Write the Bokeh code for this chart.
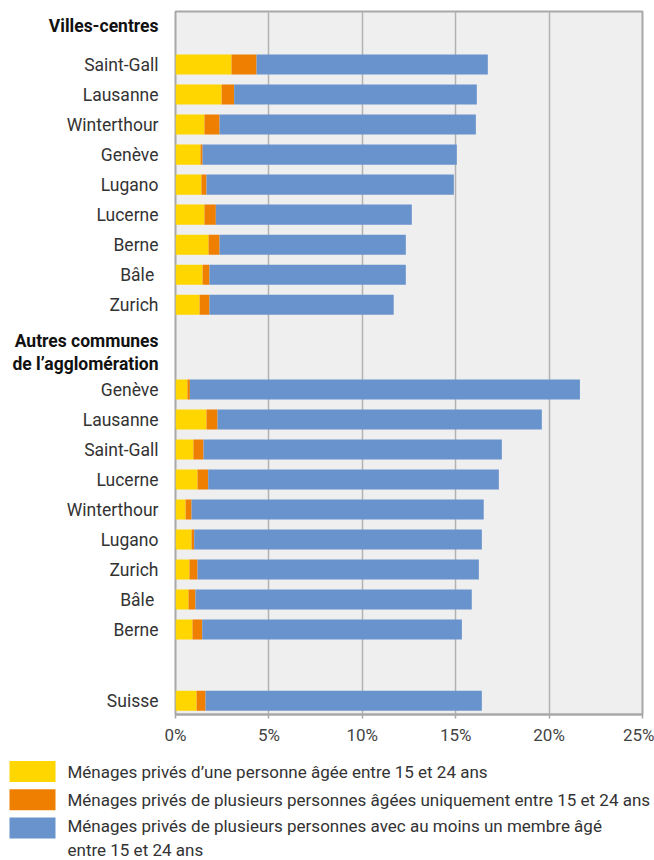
from bokeh.plotting import figure
from bokeh.models import ColumnDataSource, Range1d, FixedTicker
from bokeh.layouts import column, row
from bokeh.core.properties import value
from bokeh.embed import file_html
from bokeh.resources import INLINE

# ---------------- data ----------------
x_ticks = [0, 5, 10, 15, 20, 25]
x_tick_labels = ["0%", "5%", "10%", "15%", "20%", "25%"]

series_names = [
    "Ménages privés d’une personne âgée entre 15 et 24 ans",
    "Ménages privés de plusieurs personnes âgées uniquement entre 15 et 24 ans",
    "Ménages privés de plusieurs personnes avec au moins un membre âgé\nentre 15 et 24 ans",
]

header_villes = "Villes-centres"
villes = ["Saint-Gall", "Lausanne", "Winterthour", "Genève", "Lugano",
          "Lucerne", "Berne", "Bâle ", "Zurich"]
villes_seul = [3.0, 2.47, 1.55, 1.34, 1.39, 1.55, 1.77, 1.45, 1.29]
villes_jeunes = [1.34, 0.67, 0.81, 0.11, 0.27, 0.61, 0.59, 0.37, 0.53]
villes_autres = [12.38, 12.99, 13.72, 13.61, 13.24, 10.49, 9.97, 10.51, 9.86]

header_agglo = "Autres communes\nde l’agglomération"
agglo = ["Genève", "Lausanne", "Saint-Gall", "Lucerne", "Winterthour",
         "Lugano", "Zurich", "Bâle ", "Berne"]
agglo_seul = [0.64, 1.66, 0.96, 1.18, 0.54, 0.86, 0.75, 0.70, 0.91]
agglo_jeunes = [0.13, 0.59, 0.54, 0.57, 0.32, 0.14, 0.43, 0.37, 0.52]
agglo_autres = [20.88, 17.36, 15.97, 15.56, 15.64, 15.40, 15.06, 14.79, 13.90]

suisse = ["Suisse"]
suisse_seul = [1.13]
suisse_jeunes = [0.48]
suisse_autres = [14.79]

colors = ["#FFD600", "#EF7F00", "#6993CC"]

# ---------------- row layout (row units, top = 0) ----------------
start_villes = 1.77
start_agglo = 12.6
pos_suisse = 22.97
pos_header_villes = 0.47
pos_header_agglo = 11.38
y_bottom = 23.43

y_villes = [start_villes + i for i in range(len(villes))]
y_agglo = [start_agglo + i for i in range(len(agglo))]
y_suisse = [pos_suisse]

ys = y_villes + y_agglo + y_suisse
names = villes + agglo + suisse
source = ColumnDataSource(dict(
    y=ys,
    name=names,
    seul=villes_seul + agglo_seul + suisse_seul,
    jeunes=villes_jeunes + agglo_jeunes + suisse_jeunes,
    autres=villes_autres + agglo_autres + suisse_autres,
))
headers = ColumnDataSource(dict(
    y=[pos_header_villes, pos_header_agglo],
    text=[header_villes, header_agglo],
))

FONT = "Roboto"
H_MAIN = 750
TOP, BOTTOM = 11, 36
y_range = Range1d(y_bottom, 0)

# ---------------- category labels (left strip) ----------------
lab = figure(width=163, height=H_MAIN, output_backend="svg", toolbar_location=None,
             x_range=Range1d(0, 163), y_range=y_range,
             min_border_left=0, min_border_right=0, min_border_top=TOP,
             min_border_bottom=BOTTOM, x_axis_location=None, y_axis_location=None)
lab.grid.visible = False
lab.outline_line_color = None
lab.text(x=158, y="y", text="name", source=source, text_align="right",
         text_baseline="middle", text_font=value(FONT), text_font_size="17.5px",
         text_color="#333333")
lab.text(x=158, y="y", text="text", source=headers, text_align="right",
         text_baseline="middle", text_font=value(FONT), text_font_size="17.5px",
         text_font_style="bold", text_color="#111111", text_line_height=1.15)

# ---------------- main chart ----------------
p = figure(width=491, height=H_MAIN, output_backend="svg", toolbar_location=None,
           x_range=Range1d(0, 25), y_range=y_range, y_axis_location=None,
           min_border_left=12, min_border_right=12, min_border_top=TOP,
           min_border_bottom=BOTTOM)
p.background_fill_color = "#EFEFEF"
p.border_fill_color = "white"
p.outline_line_color = "#A8A8A8"
p.outline_line_width = 2

p.hbar_stack(["seul", "jeunes", "autres"], y="y", height=0.667,
             color=colors, line_color=None, source=source)

p.ygrid.visible = False
p.xgrid.ticker = FixedTicker(ticks=x_ticks)
p.xgrid.grid_line_color = "#B2B2B2"
p.xgrid.grid_line_width = 1.5

xa = p.xaxis[0]
xa.ticker = FixedTicker(ticks=x_ticks)
xa.major_label_overrides = {t: l for t, l in zip(x_ticks, x_tick_labels)}
xa.major_label_text_font = FONT
xa.major_label_text_font_size = "17px"
xa.major_label_text_color = "#444444"
xa.major_tick_out = 4
xa.major_tick_in = 0
xa.major_tick_line_color = "#A8A8A8"
xa.major_tick_line_width = 1.5
xa.minor_tick_line_color = None
xa.axis_line_color = "#A8A8A8"
xa.axis_line_width = 2
xa.major_label_standoff = 6

# ---------------- legend strip ----------------
H_LEG = 110
lg = figure(width=654, height=H_LEG, output_backend="svg", toolbar_location=None,
            x_range=Range1d(0, 654), y_range=Range1d(H_LEG, 0),
            min_border_left=0, min_border_right=0, min_border_top=0,
            min_border_bottom=0, x_axis_location=None, y_axis_location=None)
lg.grid.visible = False
lg.outline_line_color = None
lg.background_fill_color = "white"

step, sw_top, sw_h, line_h = 28.2, 10.5, 21, 20
sw_tops = [sw_top + step * i for i in range(len(series_names))]
n_lines = [n.count("\n") + 1 for n in series_names]
leg_src = ColumnDataSource(dict(
    top=sw_tops,
    bottom=[t + sw_h for t in sw_tops],
    color=colors,
    label=series_names,
    ty=[t + sw_h / 2 + (k - 1) * line_h / 2 for t, k in zip(sw_tops, n_lines)],
))
lg.quad(left=9, right=55, top="top", bottom="bottom", color="color",
        line_color=None, source=leg_src)
lg.text(x=67, y="ty", text="label", source=leg_src, text_align="left",
        text_baseline="middle", text_font=value(FONT), text_font_size="17px",
        text_color="#333333", text_line_height=1.18)

layout = column(row(lab, p, spacing=0), lg, spacing=0)
open("out.html", "w").write(file_html(layout, INLINE))
